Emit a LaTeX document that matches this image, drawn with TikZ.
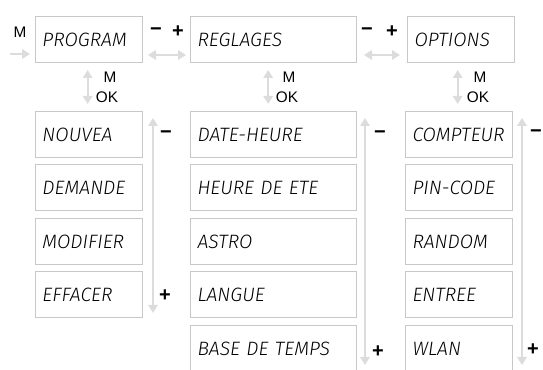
\documentclass[tikz,border=0pt]{standalone}
\usepackage{fontspec}
\setmainfont{Liberation Sans}
\newfontfamily\lcdfont{Fira Sans Light Italic}
\usetikzlibrary{arrows.meta}
\definecolor{frame}{HTML}{C8C8C8}
\definecolor{guide}{HTML}{DCDCDC}

\begin{document}
\begin{tikzpicture}[x=0.75pt,y=-0.75pt,
  menubox/.style={draw=frame, line width=0.75pt, anchor=north west,
    minimum height=34.5pt, inner xsep=5.25pt, inner ysep=0pt, align=left,
    font=\lcdfont\fontsize{14.5}{15}\selectfont},
  narrow/.style={menubox, text width=69.75pt},
  wide/.style={menubox, text width=114pt},
  key/.style={font=\fontsize{11.5}{11.5}\selectfont, inner sep=0pt},
  sign/.style={font=\bfseries\fontsize{15}{15}\selectfont, inner sep=0pt},
  tip/.tip={Triangle[length=6pt,width=7pt]},
  guide arrow/.style={draw=guide, line width=1.5pt, -tip},
  both arrow/.style={draw=guide, line width=1.5pt, tip-tip},
]
\useasboundingbox (0,0) rectangle (543,370);

% top level menus
\node[narrow] (prog) at (35,16) {PROGRAM};
\node[wide]   (regl) at (190,16) {REGLAGES};
\node[narrow] (opt)  at (407,16) {OPTIONS};

% PROGRAM submenu
\node[narrow] (p1) at (35,111) {NOUVEA};
\node[narrow] (p2) at (35,164) {DEMANDE};
\node[narrow] (p3) at (35,218) {MODIFIER};
\node[narrow] (p4) at (35,271) {EFFACER};

% REGLAGES submenu
\node[wide] (r1) at (190,111) {DATE-HEURE};
\node[wide] (r2) at (190,164) {HEURE DE ETE};
\node[wide] (r3) at (190,218) {ASTRO};
\node[wide] (r4) at (190,271) {LANGUE};
\node[wide] (r5) at (190,325) {BASE DE TEMPS};

% OPTIONS submenu
\node[narrow] (o1) at (405,111) {COMPTEUR};
\node[narrow] (o2) at (405,164) {PIN-CODE};
\node[narrow] (o3) at (405,218) {RANDOM};
\node[narrow] (o4) at (405,271) {ENTREE};
\node[narrow] (o5) at (405,325) {WLAN};

% entry into the menu
\node[key] (mkey) at (20,32) {M};
\coordinate (entry) at (10,54);
\draw[guide arrow, shorten >=3.75pt] (entry) -- (entry -| prog.west);

% moving between top level menus
\node[sign] (m1) at (156,32) {−};
\node[sign] (p1s) at (178,32) {+};
\draw[both arrow, shorten <=3.75pt, shorten >=3pt]
  ([yshift=6pt]prog.south east) -- ([yshift=6pt]regl.south west);
\node[sign] (m2) at (367,32) {−};
\node[sign] (p2s) at (392,32) {+};
\draw[both arrow, shorten <=5.25pt, shorten >=5.25pt]
  ([yshift=6pt]regl.south east) -- ([yshift=6pt]opt.south west);

% entering a submenu
\draw[both arrow, shorten <=5.25pt, shorten >=5.25pt]
  ([xshift=-1pt]prog.south) -- ([xshift=-1pt]prog.south |- p1.north);
\node[key] (pm) at (110,77) {M};
\node[key] (pok) at (107,97) {OK};
\draw[both arrow, shorten <=5.25pt, shorten >=5.25pt]
  ([xshift=-4pt]regl.south) -- ([xshift=-4pt]regl.south |- r1.north);
\node[key] (rm) at (289,77) {M};
\node[key] (rok) at (287,97) {OK};
\draw[both arrow, shorten <=5.25pt, shorten >=5.25pt]
  ([xshift=-2.5pt]opt.south) -- ([xshift=-2.5pt]opt.south |- o1.north);
\node[key] (om) at (480,77) {M};
\node[key] (ook) at (478,97) {OK};

% scrolling inside the submenus
\coordinate (pt) at (153,118);
\coordinate (pb) at (153,313);
\draw[both arrow] (pb) -- (pt);
\node[sign] (pminus) at (166,135) {−};
\node[sign] (pplus) at (165,296) {+};

\coordinate (rt) at (365,118);
\coordinate (rb) at (365,365);
\draw[both arrow] (rb) -- (rt);
\node[sign] (rminus) at (380,135) {−};
\node[sign] (rplus) at (378,352) {+};

\coordinate (ot) at (522,118);
\coordinate (ob) at (522,365);
\draw[both arrow] (ob) -- (ot);
\node[sign] (ominus) at (536,134) {−};
\node[sign] (oplus) at (533,350) {+};
\end{tikzpicture}
\end{document}
